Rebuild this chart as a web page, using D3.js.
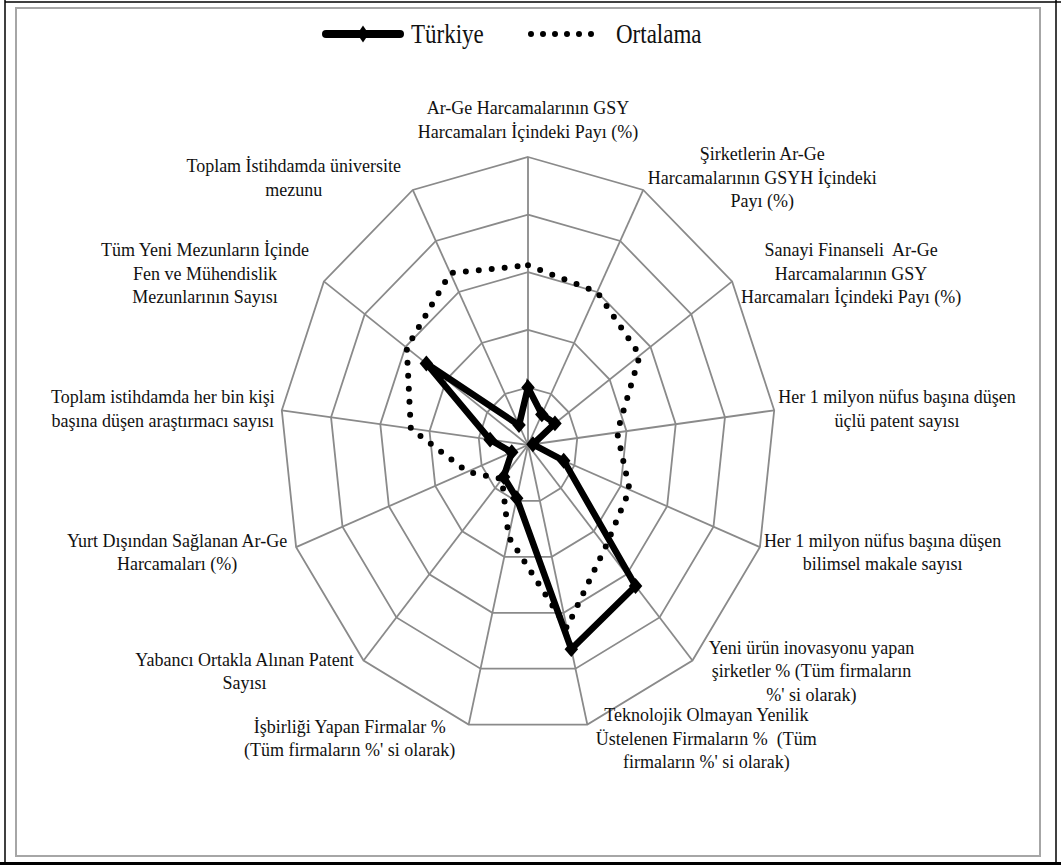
<!DOCTYPE html>
<html>
<head>
<meta charset="utf-8">
<script src="https://cdn.jsdelivr.net/npm/d3@7"></script>
<style>
  body { margin: 0; background: #fff; }
  svg { display: block; }
  svg text { font-family: "Liberation Serif", "DejaVu Serif", "Times New Roman", Times, serif; fill: #111; white-space: pre; }
</style>
</head>
<body>
<svg id="chart" width="1061" height="865" font-family="Liberation Serif, DejaVu Serif, serif"></svg>
<script>
  // kategoriler (saat yönünde, üstten başlayarak) - satır kırılımları orijinaldeki gibi
  const categories = [
    ["Ar-Ge Harcamalarının GSY", "Harcamaları İçindeki Payı (%)"],
    ["Şirketlerin Ar-Ge", "Harcamalarının GSYH İçindeki", "Payı (%)"],
    ["Sanayi Finanseli  Ar-Ge", "Harcamalarının GSY", "Harcamaları İçindeki Payı (%)"],
    ["Her 1 milyon nüfus başına düşen", "üçlü patent sayısı"],
    ["Her 1 milyon nüfus başına düşen", "bilimsel makale sayısı"],
    ["Yeni ürün inovasyonu yapan", "şirketler % (Tüm firmaların", "%' si olarak)"],
    ["Teknolojik Olmayan Yenilik", "Üstelenen Firmaların %  (Tüm", "firmaların %' si olarak)"],
    ["İşbirliği Yapan Firmalar %", "(Tüm firmaların %' si olarak)"],
    ["Yabancı Ortakla Alınan Patent", "Sayısı"],
    ["Yurt Dışından Sağlanan Ar-Ge", "Harcamaları (%)"],
    ["Toplam istihdamda her bin kişi", "başına düşen araştırmacı sayısı"],
    ["Tüm Yeni Mezunların İçinde", "Fen ve Mühendislik", "Mezunlarının Sayısı"],
    ["Toplam İstihdamda üniversite", "mezunu"]
  ];

  // seri değerleri
  const turkiye  = [1.0, 0.6, 0.66, 0.1, 0.77, 3.27, 3.65, 0.95, 0.74, 0.35, 0.77, 2.49, 0.39];
  const ortalama = [3.12, 3.0, 2.74, 1.81, 2.19, 2.36, 3.27, 1.64, 0.79, 1.31, 2.38, 2.97, 3.37];

  // ızgara halkaları
  const gridLevels = [1, 2, 3, 4, 5];
  const seriesNames = ["Türkiye", "Ortalama"];

  const svg = d3.select('#chart');
  const cx = 528, cy = 445;

  // ölçekler (görüntü dikeyde esnetilmiş, bu yüzden x ve y yarıçapı ayrı)
  const angle = d3.scaleLinear().domain([0, categories.length]).range([0, 2 * Math.PI]);
  const rx = d3.scaleLinear().domain([0, 5]).range([0, 248]);
  const ry = d3.scaleLinear().domain([0, 5]).range([0, 288]);

  function pt(i, v) {
    const a = angle(i);
    return [cx + rx(v) * Math.sin(a), cy - ry(v) * Math.cos(a)];
  }

  const closedLine = d3.line().curve(d3.curveLinearClosed);

  // arka plan + çerçeve
  svg.append('rect').attr('width', 1061).attr('height', 865).attr('fill', '#fff');
  svg.append('line').attr('x1', 5).attr('y1', 0).attr('x2', 5).attr('y2', 862)
    .attr('stroke', '#000').attr('stroke-width', 1.5);
  svg.append('line').attr('x1', 5).attr('y1', 2).attr('x2', 1061).attr('y2', 2)
    .attr('stroke', '#000').attr('stroke-width', 1.5);
  svg.append('line').attr('x1', 1056).attr('y1', 0).attr('x2', 1056).attr('y2', 862)
    .attr('stroke', '#000').attr('stroke-width', 1.5);
  svg.append('rect').attr('x', 0).attr('y', 862).attr('width', 1061).attr('height', 3).attr('fill', '#000');
  svg.append('rect').attr('x', 16).attr('y', 8).attr('width', 1024).attr('height', 848)
    .attr('fill', 'none').attr('stroke', '#a6a6a6').attr('stroke-width', 2);

  // ızgara
  const grid = svg.append('g').attr('class', 'grid');
  grid.selectAll('path.ring')
    .data(gridLevels)
    .enter()
    .append('path')
    .attr('class', 'ring')
    .attr('d', lv => closedLine(categories.map((c, i) => pt(i, lv))))
    .attr('fill', 'none')
    .attr('stroke', '#8a8a8a')
    .attr('stroke-width', 1.8);

  grid.selectAll('line.spoke')
    .data(categories)
    .enter()
    .append('line')
    .attr('class', 'spoke')
    .attr('x1', (d, i) => pt(i, 0)[0])
    .attr('y1', (d, i) => pt(i, 0)[1])
    .attr('x2', (d, i) => pt(i, 5)[0])
    .attr('y2', (d, i) => pt(i, 5)[1])
    .attr('stroke', '#8a8a8a')
    .attr('stroke-width', 1.8);

  // Ortalama (noktalı)
  svg.append('path')
    .attr('d', closedLine(ortalama.map((v, i) => pt(i, v))))
    .attr('fill', 'none')
    .attr('stroke', '#000')
    .attr('stroke-width', 6)
    .attr('stroke-linecap', 'round')
    .attr('stroke-dasharray', '0 13');

  // Türkiye (kalın çizgi + elmas işaretler)
  svg.append('path')
    .attr('d', closedLine(turkiye.map((v, i) => pt(i, v))))
    .attr('fill', 'none')
    .attr('stroke', '#000')
    .attr('stroke-width', 6.5)
    .attr('stroke-linejoin', 'miter');

  const diamond = {
    draw(ctx, size) {
      const w = Math.sqrt(size) * 0.55, h = Math.sqrt(size) * 0.65;
      ctx.moveTo(0, -h); ctx.lineTo(w, 0); ctx.lineTo(0, h); ctx.lineTo(-w, 0); ctx.closePath();
    }
  };
  svg.append('g')
    .selectAll('path')
    .data(turkiye)
    .enter()
    .append('path')
    .attr('transform', (v, i) => `translate(${pt(i, v)[0]},${pt(i, v)[1]})`)
    .attr('d', d3.symbol().type(diamond).size(150))
    .attr('fill', '#000');

  // kategori etiketleri
  const lh = 23.5;
  const labels = svg.append('g').attr('class', 'labels').style('font-size', '18px');
  categories.forEach((lines, i) => {
    const a = angle(i), dx = Math.sin(a), dy = -Math.cos(a);
    const [vx, vy] = pt(i, 5);
    const t = labels.append('text').attr('text-anchor', 'middle');
    const spans = lines.map(l => t.append('tspan').text(l));
    const maxW = d3.max(spans, s => s.node().getComputedTextLength());
    const boxW = Math.max(maxW, 230);
    let lx;
    if (Math.abs(dx) < 0.1) lx = vx;
    else if (dx > 0) lx = vx + 4 + boxW / 2;
    else lx = vx - 4 - boxW / 2;
    const h = lines.length * lh;
    let ly = vy + dy * 14;
    if (dy < -0.95) ly -= h / 2;
    spans.forEach((s, j) => {
      s.attr('x', lx).attr('y', ly - h / 2 + lh * (j + 0.5)).attr('dy', '0.35em');
    });
  });

  // lejant
  const legend = svg.append('g').attr('class', 'legend');
  legend.append('line')
    .attr('x1', 326).attr('y1', 34).attr('x2', 400).attr('y2', 34)
    .attr('stroke', '#000').attr('stroke-width', 8).attr('stroke-linecap', 'round');
  legend.append('path')
    .attr('transform', 'translate(363,34) scale(1,1.25)')
    .attr('d', d3.symbol().type(diamond).size(110))
    .attr('fill', '#000');
  legend.append('line')
    .attr('x1', 531).attr('y1', 34).attr('x2', 603).attr('y2', 34)
    .attr('stroke', '#000').attr('stroke-width', 6).attr('stroke-linecap', 'round')
    .attr('stroke-dasharray', '0 12');
  legend.selectAll('text')
    .data(seriesNames)
    .enter()
    .append('text')
    .attr('transform', (d, i) => `translate(${i === 0 ? 411 : 616},43) scale(1,1.17)`)
    .style('font-size', '23px')
    .text(d => d);
</script>
</body>
</html>
